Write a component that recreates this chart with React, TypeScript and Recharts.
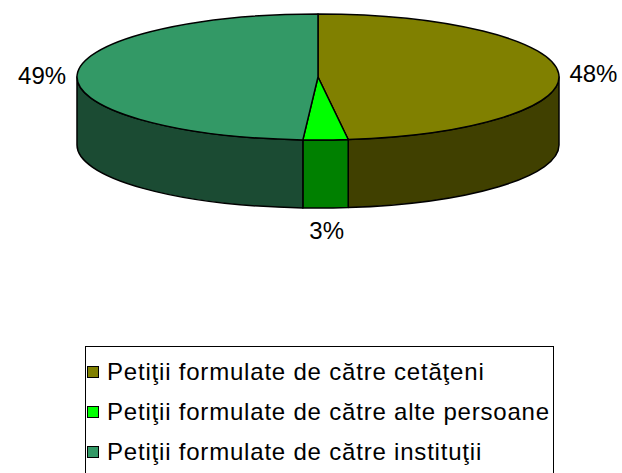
import React from 'react';
import { PieChart, Pie, Legend } from 'recharts';

const categories = [
  'Petiţii formulate de către cetăţeni',
  'Petiţii formulate de către alte persoane',
  'Petiţii formulate de către instituţii',
];
const values = [48, 3, 49];
const topColors = ['#808000', '#00ff00', '#339966'];
const sideColors = ['#404000', '#008000', '#1b4b33'];

const data = categories.map((name, i) => ({ name, value: values[i] }));

const CX = 318;
const CY = 77;
const RX = 241;
const RY = 63;
const DEPTH = 68;
const FONT = '"Liberation Sans", Arial, sans-serif';

const rad = (a: number) => (a * Math.PI) / 180;
const pt = (a: number, dy = 0) => [CX + RX * Math.cos(rad(a)), CY - RY * Math.sin(rad(a)) + dy];

function renderSlice(props: any) {
  const { startAngle, endAngle, index } = props;
  const s = Math.max(startAngle, endAngle);
  const e = Math.min(startAngle, endAngle);
  const walls: React.ReactNode[] = [];
  // visible front wall: math angles in [-180, 0] (plus shifted windows)
  [-360, 0, 360].forEach((shift, k) => {
    const lo = -180 + shift;
    const hi = 0 + shift;
    const a1 = Math.min(s, hi);
    const a2 = Math.max(e, lo);
    if (a1 - a2 > 0.01) {
      const [x1, y1] = pt(a1);
      const [x2, y2] = pt(a2);
      const d = `M${x1},${y1} A${RX},${RY} 0 0 1 ${x2},${y2} L${x2},${y2 + DEPTH} A${RX},${RY} 0 0 0 ${x1},${y1 + DEPTH} Z`;
      walls.push(
        <path key={k} d={d} fill={sideColors[index]} stroke="#000" strokeWidth={1.5} strokeLinejoin="round" />
      );
    }
  });
  const [sx, sy] = pt(s);
  const [ex, ey] = pt(e);
  const large = s - e > 180 ? 1 : 0;
  const top = `M${CX},${CY} L${sx},${sy} A${RX},${RY} 0 ${large} 1 ${ex},${ey} Z`;
  return (
    <g>
      {walls}
      <path d={top} fill={topColors[index]} stroke="#000" strokeWidth={1.5} strokeLinejoin="round" />
    </g>
  );
}

function renderLabel(props: any) {
  const { midAngle, percent } = props;
  const sin = Math.sin(rad(midAngle));
  const cos = Math.cos(rad(midAngle));
  const x = CX + (RX + 35) * cos;
  const y = CY - RY * sin + (sin < 0 ? (DEPTH + 23) * -sin : 0);
  return (
    <text x={x} y={y} textAnchor="middle" dominantBaseline="central" fontSize={24} fontFamily={FONT} fill="#000">
      {`${Math.round(percent * 100)}%`}
    </text>
  );
}

function LegendBox() {
  return (
    <div
      style={{
        position: 'absolute',
        left: 85,
        top: 346,
        width: 469,
        height: 140,
        border: '1.5px solid #000',
        boxSizing: 'border-box',
        fontFamily: FONT,
        fontSize: 24,
        lineHeight: '24px',
        letterSpacing: '0.8px',
        color: '#000',
        background: '#fff',
      }}
    >
      {categories.map((c, i) => (
        <div
          key={c}
          style={{ position: 'absolute', left: 1, top: 12.5 + i * 40, height: 24, display: 'flex', alignItems: 'center', whiteSpace: 'nowrap' }}
        >
          <span
            style={{
              display: 'inline-block',
              width: 10,
              height: 10,
              background: topColors[i],
              border: '1.5px solid #000',
              marginRight: 8,
            }}
          />
          <span>{c}</span>
        </div>
      ))}
    </div>
  );
}

export default function App() {
  return (
    <div style={{ position: 'absolute', left: 0, top: 0, width: 622, height: 473, background: '#fff', overflow: 'hidden' }}>
      <PieChart width={622} height={473}>
        <Pie
          data={data}
          dataKey="value"
          nameKey="name"
          cx={CX}
          cy={CY}
          outerRadius={RY}
          startAngle={90}
          endAngle={-270}
          shape={renderSlice}
          label={renderLabel}
          labelLine={false}
          isAnimationActive={false}
        />
        <Legend content={() => null} />
      </PieChart>
      <LegendBox />
    </div>
  );
}
